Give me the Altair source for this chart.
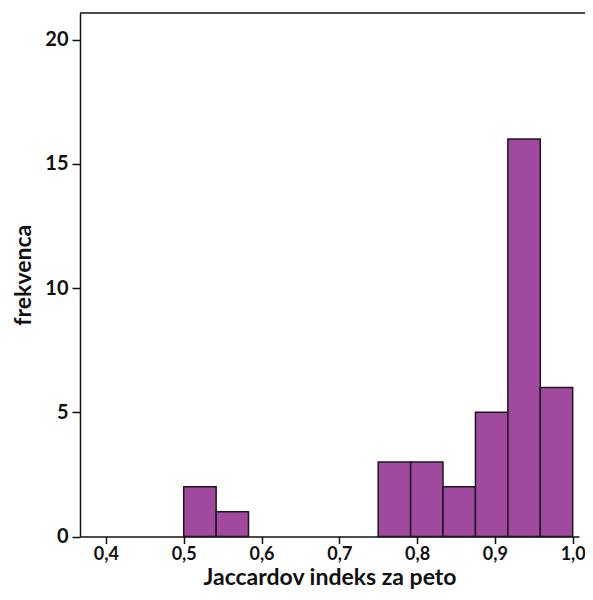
import altair as alt
import pandas as pd

bin_start = [0.5, 0.5417, 0.75, 0.7917, 0.8333, 0.875, 0.9167, 0.9583]
bin_end = [0.5417, 0.5833, 0.7917, 0.8333, 0.875, 0.9167, 0.9583, 1.0]
counts = [2, 1, 3, 3, 2, 5, 16, 6]
x_ticks = [0.4, 0.5, 0.6, 0.7, 0.8, 0.9, 1.0]
y_ticks = [0, 5, 10, 15, 20]

df = pd.DataFrame({"start": bin_start, "end": bin_end, "count": counts})

FONT = "Lato"
W, H = 499, 523.5

bars = alt.Chart(df).mark_bar(
    color="#A0499E", stroke="#1a1a1a", strokeWidth=1.5, binSpacing=0
).encode(
    x=alt.X("start:Q",
            scale=alt.Scale(domain=[0.3667, 1.0081], nice=False, zero=False),
            axis=alt.Axis(values=x_ticks, title="Jaccardov indeks za peto",
                          labelExpr="replace(format(datum.value, '.1f'), '.', ',')",
                          grid=False, domainColor="#111", domainWidth=1.5,
                          tickColor="#111", tickWidth=1.5, tickSize=7,
                          labelFont=FONT, labelFontSize=18, labelFontWeight="bold",
                          labelColor="#111", labelPadding=2,
                          titleFont=FONT, titleFontSize=23, titleFontWeight="bold",
                          titleColor="#111", titlePadding=3)),
    x2="end:Q",
    y=alt.Y("count:Q",
            scale=alt.Scale(domain=[0, 21.07], nice=False),
            axis=alt.Axis(values=y_ticks, title="frekvenca", grid=False,
                          domainColor="#111", domainWidth=1.5,
                          tickColor="#111", tickWidth=1.5, tickSize=8,
                          labelFont=FONT, labelFontSize=20, labelFontWeight="bold",
                          labelColor="#111", labelPadding=4,
                          titleFont=FONT, titleFontSize=23, titleFontWeight="bold",
                          titleColor="#111", titlePadding=9)),
    y2=alt.datum(0),
)

top = alt.Chart(pd.DataFrame({"a": [0]})).mark_rule(
    color="#111", strokeWidth=1.5
).encode(x=alt.value(0), x2=alt.value(W + 6), y=alt.value(0))

chart = alt.layer(bars, top).properties(
    width=W, height=H,
    autosize=alt.AutoSizeParams(type="none"),
    padding={"left": 72, "top": 5, "right": 6, "bottom": 55},
).configure_view(stroke=None)

chart.save("out.html", embed_options={"renderer": "svg", "actions": False})
